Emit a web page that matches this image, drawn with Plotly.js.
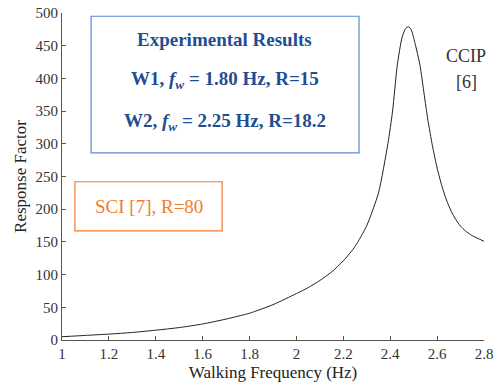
<!DOCTYPE html>
<html>
<head>
<meta charset="utf-8">
<script src="https://cdn.plot.ly/plotly-3.0.1.min.js"></script>
<style>html,body{margin:0;padding:0;background:#fff;}#chart{width:498px;height:385px;}</style>
</head>
<body>
<div id="chart"></div>
<script>
// Walking frequency (Hz)
const freq = [1.0, 1.1, 1.2, 1.3, 1.4, 1.5, 1.6, 1.7, 1.8, 1.9, 2.0, 2.05, 2.1, 2.15, 2.2, 2.25, 2.3, 2.35, 2.39, 2.41, 2.43, 2.45, 2.465, 2.478, 2.49, 2.505, 2.527, 2.545, 2.56, 2.58, 2.6, 2.62, 2.64, 2.66, 2.68, 2.7, 2.72, 2.75, 2.8];
// Response factor
const response = [5, 7, 9, 11.5, 15, 19, 24.5, 32, 41, 54, 71, 80, 91, 104, 121, 143, 175, 225, 300, 350, 420, 462, 476, 479, 474, 455, 420, 375, 338, 297, 263, 236, 214, 197, 184, 174, 167, 159.5, 151];

const xTicks = [1, 1.2, 1.4, 1.6, 1.8, 2, 2.2, 2.4, 2.6, 2.8];
const xTickText = ['1', '1.2', '1.4', '1.6', '1.8', '2', '2.2', '2.4', '2.6', '2.8'];
const yTicks = [0, 50, 100, 150, 200, 250, 300, 350, 400, 450, 500];

const serif = 'Liberation Serif, Times New Roman, serif';
const blue = '#1F4E92';
const blueBorder = '#5B8BD3';
const orange = '#ED7D31';

const trace = {
  x: freq, y: response, type: 'scatter', mode: 'lines',
  line: {color: '#222222', width: 1, shape: 'spline', smoothing: 0.6},
  hoverinfo: 'skip'
};

const layout = {
  width: 498, height: 385,
  margin: {l: 62, r: 14, t: 13, b: 45},
  paper_bgcolor: '#fff', plot_bgcolor: '#fff',
  showlegend: false,
  font: {family: serif, size: 15, color: '#333'},
  xaxis: {
    range: [1, 2.8], tickvals: xTicks, ticktext: xTickText,
    ticks: 'inside', ticklen: 4, tickcolor: '#555', tickwidth: 1,
    showline: true, linecolor: '#555', linewidth: 1, mirror: false,
    showgrid: false, zeroline: false,
    tickfont: {family: serif, size: 15, color: '#333'},
    title: {text: 'Walking Frequency (Hz)', font: {family: serif, size: 17, color: '#222'}, standoff: 5}
  },
  yaxis: {
    range: [0, 500], tickvals: yTicks,
    ticks: 'inside', ticklen: 4, tickcolor: '#555', tickwidth: 1,
    showline: true, linecolor: '#555', linewidth: 1, mirror: false,
    showgrid: false, zeroline: false,
    tickfont: {family: serif, size: 15, color: '#333'},
    title: {text: 'Response Factor', font: {family: serif, size: 17, color: '#222'}, standoff: 4}
  },
  shapes: [
    {type: 'rect', xref: 'x', yref: 'y', x0: 1.124, x1: 2.267, y0: 286, y1: 495,
     line: {color: blueBorder, width: 1.2}, fillcolor: 'rgba(0,0,0,0)'},
    {type: 'rect', xref: 'x', yref: 'y', x0: 1.055, x1: 1.683, y0: 167, y1: 242,
     line: {color: orange, width: 1.2}, fillcolor: 'rgba(0,0,0,0)'}
  ],
  annotations: [
    {x: 1.695, y: 459, xref: 'x', yref: 'y', showarrow: false, text: '<b>Experimental Results</b>',
     font: {family: serif, size: 19, color: blue}},
    {x: 1.695, y: 397, xref: 'x', yref: 'y', showarrow: false, text: '<b>W1, <i>f<sub>w</sub></i> = 1.80 Hz, R=15</b>',
     font: {family: serif, size: 19, color: blue}},
    {x: 1.695, y: 333, xref: 'x', yref: 'y', showarrow: false, text: '<b>W2, <i>f<sub>w</sub></i> = 2.25 Hz, R=18.2</b>',
     font: {family: serif, size: 19, color: blue}},
    {x: 1.369, y: 204, xref: 'x', yref: 'y', showarrow: false, text: 'SCI [7], R=80',
     font: {family: serif, size: 19, color: orange}},
    {x: 2.724, y: 435, xref: 'x', yref: 'y', showarrow: false, text: 'CCIP',
     font: {family: serif, size: 18, color: '#333'}},
    {x: 2.724, y: 395, xref: 'x', yref: 'y', showarrow: false, text: '[6]',
     font: {family: serif, size: 18, color: '#333'}}
  ]
};

Plotly.newPlot('chart', [trace], layout, {displayModeBar: false, staticPlot: true});
</script>
</body>
</html>
